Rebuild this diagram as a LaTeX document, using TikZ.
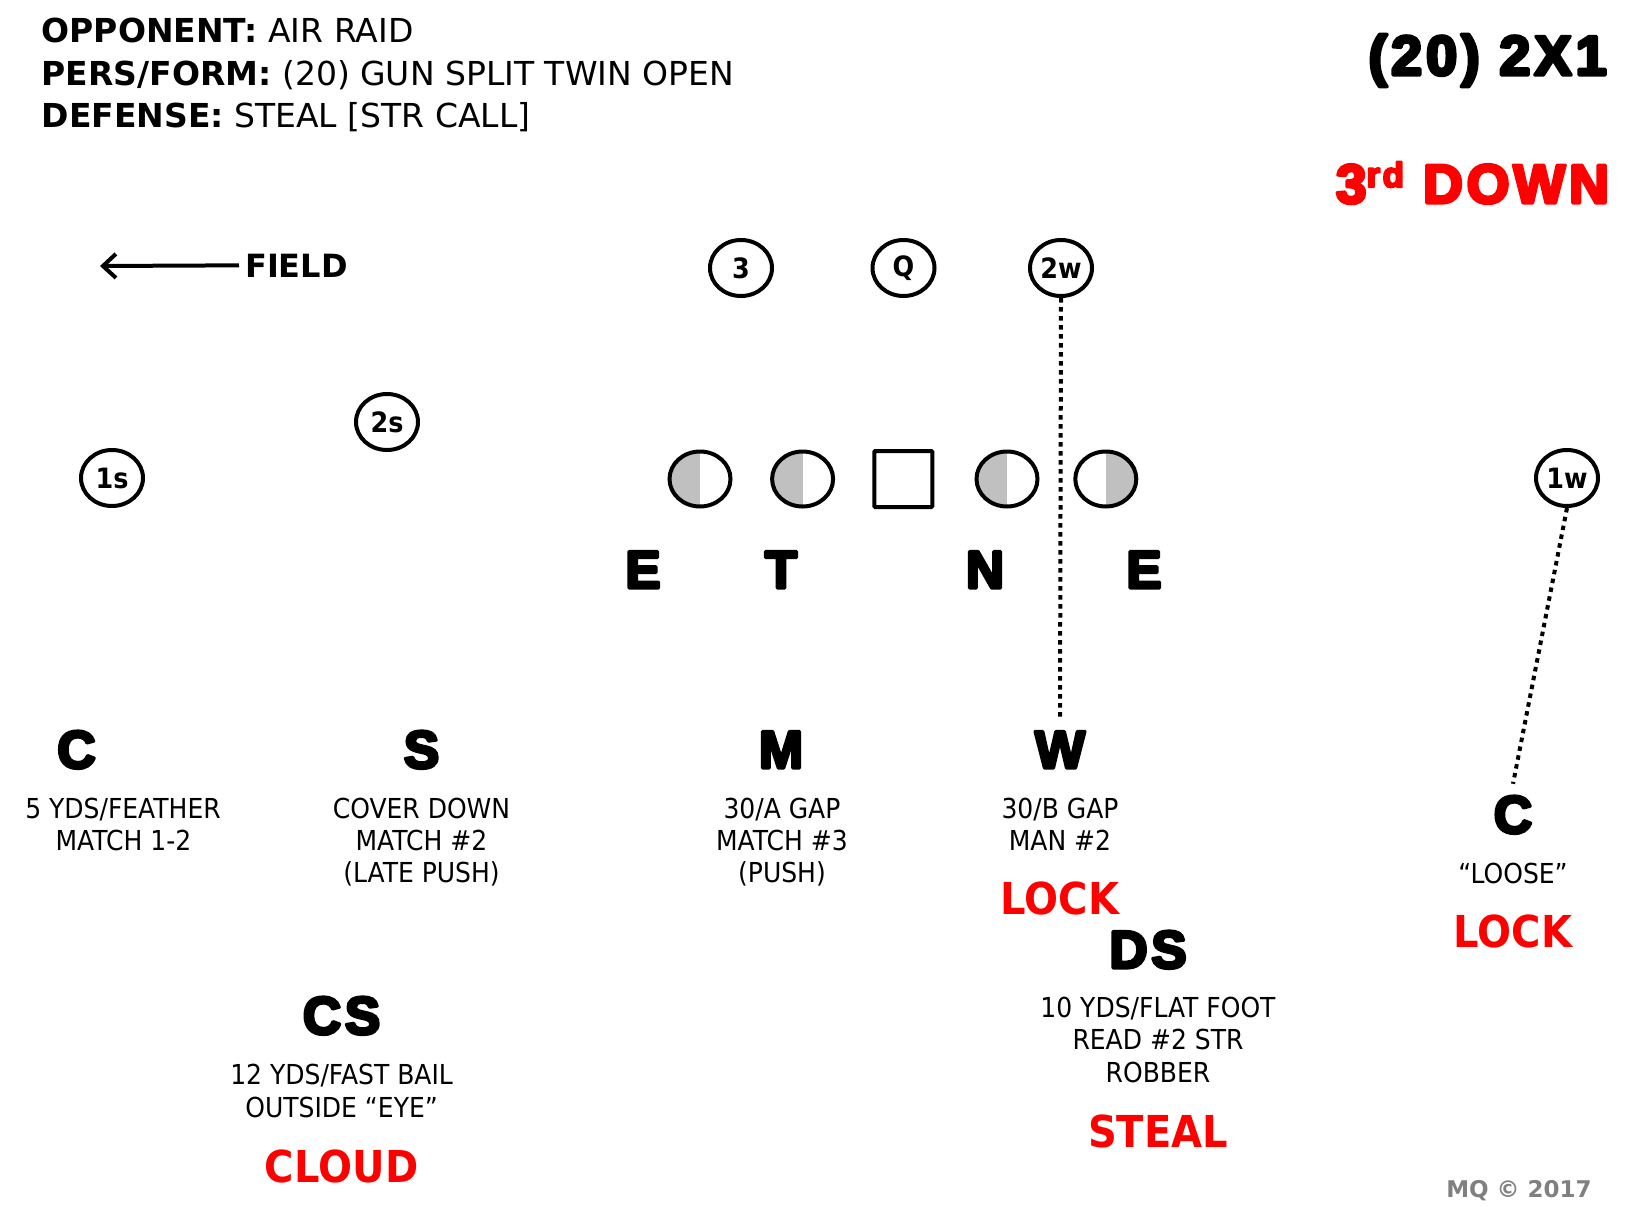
\documentclass[tikz,border=0pt]{standalone}
\usepackage{fontspec}
\usetikzlibrary{shapes.geometric,arrows.meta}
\newfontfamily\tf[FakeStretch=0.91]{DejaVu Sans}
\newfontfamily\hf{DejaVu Sans}
\newfontfamily\blk[FakeBold=6,LetterSpace=7]{Liberation Sans Bold}
\newfontfamily\vb{DejaVu Sans Bold}
\definecolor{lgray}{HTML}{C0C0C0}
\definecolor{mqgray}{HTML}{808080}
\definecolor{pred}{HTML}{FF0000}
\begin{document}
\begin{tikzpicture}[x=1pt,y=-1pt,
  txt/.style={font=\tf\fontsize{27.5}{32}\selectfont, anchor=base, inner sep=0pt},
  big/.style={font=\blk\fontsize{53}{60}\selectfont, anchor=base, inner sep=0pt, line join=round},
  callred/.style={font=\tf\bfseries\fontsize{44}{50}\selectfont, text=pred, anchor=base, inner sep=0pt},
  hdr/.style={font=\hf\fontsize{33}{40}\selectfont, anchor=base west, inner sep=0pt},
  rcv/.style={ellipse, draw, line width=4pt, minimum width=62pt, minimum height=56pt, inner sep=0pt, font=\tf\bfseries\fontsize{28}{30}\selectfont},
  dlin/.style={ellipse, draw, line width=4pt, minimum width=61pt, minimum height=55pt, inner sep=0pt},
  halfL/.style={path picture={\fill[lgray] (path picture bounding box.south west) rectangle (path picture bounding box.north);}},
  halfR/.style={path picture={\fill[lgray] (path picture bounding box.south) rectangle (path picture bounding box.north east);}},
  ctr/.style={rectangle, draw, line width=4pt, minimum width=58pt, minimum height=56pt, inner sep=0pt, rounded corners=1pt},
  dotl/.style={line width=4pt, dash pattern=on 4.5pt off 4.5pt}
]
\useasboundingbox[fill=white] (0,0) rectangle (1628,1218);

% header
\node[hdr] (h1) at (41.5,42.6) {{\bfseries OPPONENT:} AIR RAID};
\node[hdr] (h2) at (41.5,85) {{\bfseries PERS/FORM:} (20) GUN SPLIT TWIN OPEN};
\node[hdr] (h3) at (41.5,127.5) {{\bfseries DEFENSE:} STEAL [STR CALL]};
\node[big, font=\blk\fontsize{56}{60}\selectfont, anchor=base east] (form) at (1607,75) {(20) 2X1};
\node[big, font=\blk\fontsize{55}{60}\selectfont, anchor=base east, text=pred] (down) at (1609,203) {3\raisebox{16pt}{\fontsize{35}{35}\selectfont rd} DOWN};

% field arrow
\node[font=\vb\fontsize{32}{34}\selectfont, anchor=base west, inner ysep=0pt, inner xsep=6pt] (field) at (239,277) {FIELD};
\coordinate (ftip) at (100,266);
\draw[line width=4pt, -{Straight Barb[length=13pt,width=24pt]}] (field.west) -- (ftip);

% receivers
\node[rcv] (r3) at (741,268) {3};
\node[rcv] (rQ) at (903.5,268) {Q};
\node[rcv] (r2w) at (1061,268) {2w};
\node[rcv] (r2s) at (387,422) {2s};
\node[rcv] (r1s) at (112,478) {1s};
\node[rcv] (r1w) at (1567,478) {1w};

% line
\node[dlin, halfL] (o1) at (700,479) {};
\node[dlin, halfL] (o2) at (802.6,479) {};
\node[ctr] (oc) at (903.3,479) {};
\node[dlin, halfL] (o3) at (1007,479) {};
\node[dlin, halfR] (o4) at (1105.8,479) {};

% front letters
\node[big] (E1) at (643,588) {E};
\node[big] (T) at (781,588) {T};
\node[big] (N) at (985,588) {N};
\node[big] (E2) at (1144,588) {E};

% second level
\node[big] (C1) at (76.5,768) {C};
\node[big] (S) at (421.5,768) {S};
\node[big] (M) at (781,768) {M};
\node[big] (W) at (1060,768) {W};
\node[big] (C2) at (1513,833) {C};
\node[big] (DS) at (1148,968) {DS};
\node[big] (CS) at (341.6,1034) {CS};

% assignment texts
\node[txt] (c1a) at (123,818) {5 YDS/FEATHER};
\node[txt] (c1b) at (123.5,850) {MATCH 1-2};
\node[txt] (sa) at (421.5,818) {COVER DOWN};
\node[txt] (sb) at (421.5,850) {MATCH \#2};
\node[txt] (sc) at (421.5,882) {(LATE PUSH)};
\node[txt] (ma) at (782,818) {30/A GAP};
\node[txt] (mb) at (782,850) {MATCH \#3};
\node[txt] (mc) at (782,882) {(PUSH)};
\node[txt] (wa) at (1060,818) {30/B GAP};
\node[txt] (wb) at (1060,850) {MAN \#2};
\node[txt] (c2a) at (1513,883.6) {“LOOSE”};
\node[txt] (dsa) at (1158,1017.5) {10 YDS/FLAT FOOT};
\node[txt] (dsb) at (1158,1049.7) {READ \#2 STR};
\node[txt] (dsc) at (1158,1082) {ROBBER};
\node[txt] (csa) at (341.6,1084) {12 YDS/FAST BAIL};
\node[txt] (csb) at (341.6,1117) {OUTSIDE “EYE”};

% calls
\node[callred] (lockW) at (1060,914) {LOCK};
\node[callred] (lockC) at (1513,947) {LOCK};
\node[callred] (steal) at (1158,1147) {STEAL};
\node[callred] (cloud) at (341.6,1182) {CLOUD};

% copyright
\node[font=\vb\fontsize{23}{25}\selectfont, text=mqgray, anchor=base, inner sep=0pt] (mq) at (1519,1197) {MQ © 2017};

% dotted connectors
\draw[dotl] (r2w.south) -- ([yshift=11pt]W.north);
\draw[dotl] (r1w.south) -- ([yshift=12pt]C2.north);
\end{tikzpicture}
\end{document}
